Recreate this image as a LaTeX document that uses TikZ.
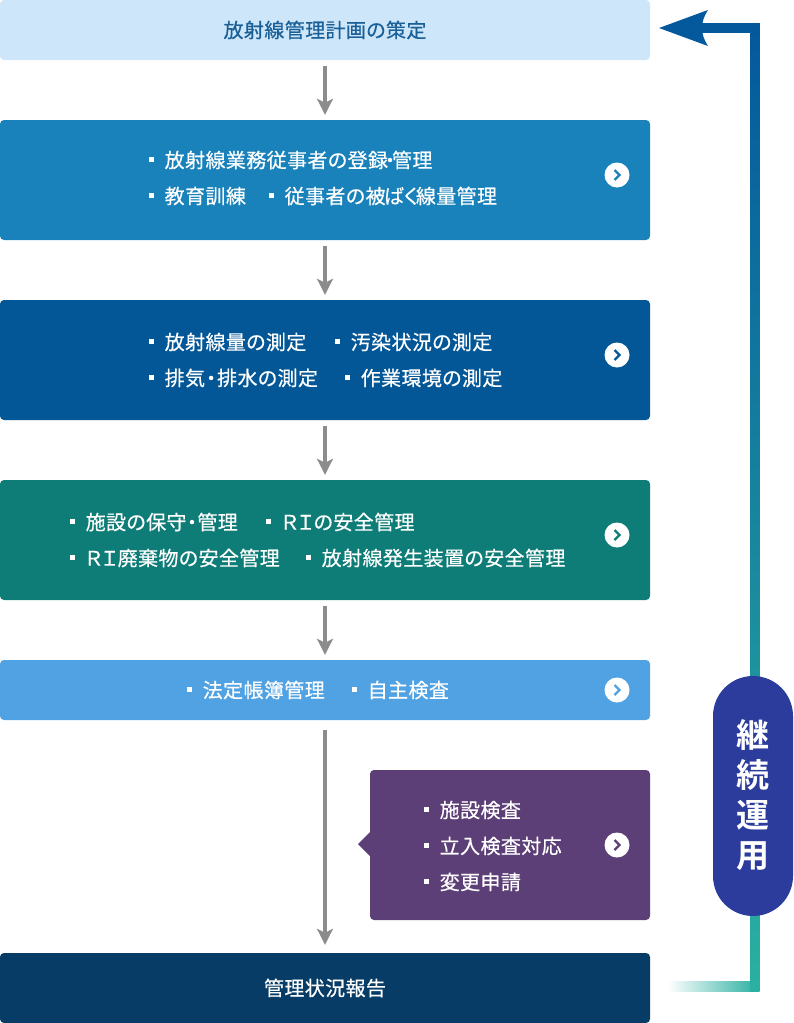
\documentclass[tikz,border=0pt]{standalone}
\usepackage{fontspec}
\setmainfont[LetterSpace=2,FakeBold=0.45,RawFeature=+palt]{Noto Sans CJK JP}
\newfontfamily\pillfont{Noto Sans CJK JP}[BoldFont=* Bold]
\usetikzlibrary{arrows.meta}
\definecolor{planblue}{HTML}{CDE6FA}
\definecolor{plantext}{HTML}{1A5F96}
\definecolor{staffblue}{HTML}{1A82BB}
\definecolor{measureblue}{HTML}{035797}
\definecolor{safegreen}{HTML}{0E7D78}
\definecolor{bookblue}{HTML}{51A2E3}
\definecolor{auditpurple}{HTML}{5D3F78}
\definecolor{reportnavy}{HTML}{073C66}
\definecolor{pillblue}{HTML}{2B3C9D}
\definecolor{looptop}{HTML}{04589C}
\definecolor{loopteal}{HTML}{2AB0A0}
\tikzset{
  flowbox/.style={rounded corners=4pt, inner sep=0pt, minimum width=650pt, text=white},
  flowarrow/.style={draw=black!45, line width=3.1pt, xshift=0.5pt, -{Stealth[length=16pt,width=16pt,inset=4pt]}, shorten <=6pt, shorten >=5pt},
  listitem/.style={anchor=west, inner sep=0pt, text=white, font=\fontsize{20}{22}\selectfont,
    execute at begin node={\rule[6pt]{4.5pt}{4.5pt}\hspace{11pt}}}
}
\begin{document}
\begin{tikzpicture}[x=1pt,y=-1pt,font=\fontsize{20}{22}\selectfont]
  \useasboundingbox (0,0) rectangle (793,1023);

  % loop line behind the pill
  \shade[left color=white, middle color=loopteal, right color=loopteal] (668,981) rectangle (758,991);
  \shade[top color=looptop, bottom color=loopteal] (750,23) rectangle (759.5,991);
  \fill[looptop] (702,23) rectangle (759.5,32.5);
  \fill[looptop] (659,28) -- (708,10) .. controls (704,16) and (702,22) .. (702,28) .. controls (702,34) and (704,40) .. (708,46) -- cycle;

  % boxes
  \node[flowbox, fill=planblue, minimum height=60pt, text=plantext] (plan) at (325,30) {放射線管理計画の策定};
  \node[flowbox, fill=staffblue, minimum height=120pt] (staff) at (325,180) {};
  \node[flowbox, fill=measureblue, minimum height=120pt] (measure) at (325,360) {};
  \node[flowbox, fill=safegreen, minimum height=120pt] (safety) at (325,540) {};
  \node[flowbox, fill=bookblue, minimum height=60pt] (books) at (325,690) {};
  \node[flowbox, fill=reportnavy, minimum height=70pt] (report) at (325,988) {\raisebox{-2pt}{管理状況報告}};

  \fill[auditpurple] (370,832) -- (358,844) -- (370,856) -- cycle;
  \node[flowbox, fill=auditpurple, minimum width=280pt, minimum height=150pt] (audit) at (510,845) {};

  % arrows
  \draw[flowarrow] (plan) -- (staff);
  \draw[flowarrow] (staff) -- (measure);
  \draw[flowarrow] (measure) -- (safety);
  \draw[flowarrow] (safety) -- (books);
  \draw[flowarrow, shorten <=10pt, shorten >=8pt] (books) -- (report);

  % lists
  \node[listitem] (staffa) at (149,160) {放射線業務従事者の登録\hspace{-3pt}・\hspace{-3pt}管理};
  \node[listitem] (staffb) at (149,196) {教育訓練};
  \node[listitem] (staffc) at (269,196) {従事者の被\hspace{-2pt}ばく\hspace{-2pt}線量管理};

  \node[listitem] (measurea) at (149,342) {放射線量の測定};
  \node[listitem] (measureb) at (335,342) {汚染状況の測定};
  \node[listitem] (measurec) at (149,378) {排気\hspace{1pt}・\hspace{1pt}排水の測定};
  \node[listitem] (measured) at (345,378) {作業環境の測定};

  \node[listitem] (safetya) at (70,522) {施設の保守・管理};
  \node[listitem] (safetyb) at (266,522) {ＲＩの安全管理};
  \node[listitem] (safetyc) at (70,558) {ＲＩ廃棄物の安全管理};
  \node[listitem] (safetyd) at (306,558) {放射線発生装置の安全管理};

  \node[listitem] (booksa) at (187,690) {法定帳簿管理};
  \node[listitem] (booksb) at (352,690) {自主検査};

  \node[listitem] (audita) at (424,810) {施設検査};
  \node[listitem] (auditb) at (424,846) {立入検査対応};
  \node[listitem] (auditc) at (424,882) {変更申請};

  % round marks
  \foreach \y/\col in {175/staffblue,355/measureblue,535/safegreen,690/bookblue,845/auditpurple}{
    \fill[white] (617,\y) circle (12.5pt);
    \draw[\col, line width=2.4pt] (614.5,\y-5) -- (619.5,\y) -- (614.5,\y+5);
  }

  % pill
  \node[fill=pillblue, rounded corners=40pt, minimum width=80pt, minimum height=240pt, inner sep=0pt] (pill) at (753,796) {};
  \node[text=white, font=\pillfont\bfseries\fontsize{33}{40}\selectfont, align=center, inner sep=0pt] (pilltext) at (753,795) {継\\続\\運\\用};
\end{tikzpicture}
\end{document}
